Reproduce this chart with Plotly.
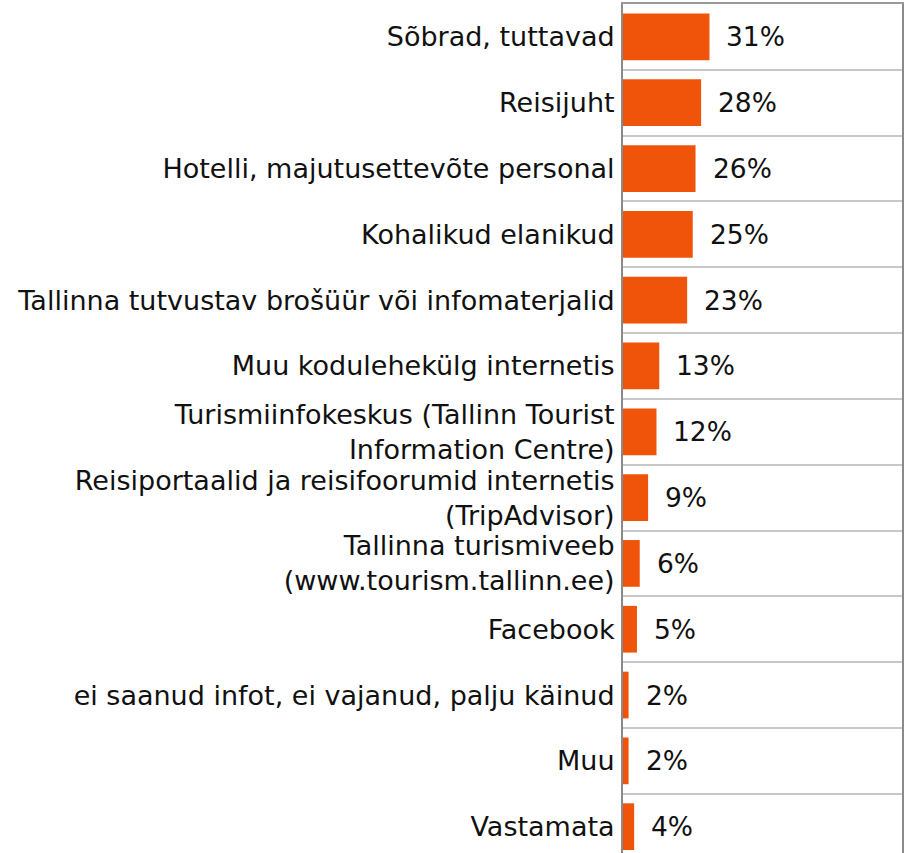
import plotly.graph_objects as go

categories = [
    "Sõbrad, tuttavad",
    "Reisijuht",
    "Hotelli, majutusettevõte personal",
    "Kohalikud elanikud",
    "Tallinna tutvustav brošüür või infomaterjalid",
    "Muu kodulehekülg internetis",
    "Turismiinfokeskus (Tallinn Tourist<br>Information Centre)",
    "Reisiportaalid ja reisifoorumid internetis<br>(TripAdvisor)",
    "Tallinna turismiveeb<br>(www.tourism.tallinn.ee)",
    "Facebook",
    "ei saanud infot, ei vajanud, palju käinud",
    "Muu",
    "Vastamata",
]
values = [31, 28, 26, 25, 23, 13, 12, 9, 6, 5, 2, 2, 4]
value_labels = [f"{v}%" for v in values]

FONT = "DejaVu Sans"
FS = 27
BAR = "#F0540A"

n = len(categories)
pos = list(range(n))

fig = go.Figure()
fig.add_trace(go.Bar(
    y=pos, x=values, orientation="h",
    marker=dict(color=BAR, line=dict(width=0)),
    width=0.71,
    hoverinfo="skip",
))

for p, v, t in zip(pos, values, value_labels):
    fig.add_annotation(x=v, y=p, text=t, showarrow=False,
                       xanchor="left", yanchor="middle", xshift=15,
                       font=dict(family=FONT, size=26.5, color="#111111"))

fig.update_layout(
    width=907, height=853,
    margin=dict(l=623, r=5, t=4, b=0),
    paper_bgcolor="white", plot_bgcolor="white",
    showlegend=False,
    font=dict(family=FONT, size=FS, color="#111111"),
    xaxis=dict(range=[0, 100], showgrid=False, zeroline=False,
               showticklabels=False, ticks="", side="top",
               showline=True, linecolor="#9a9a9a", linewidth=2,
               automargin=False),
    yaxis=dict(range=[12.40, -0.5], tickvals=pos, ticktext=categories,
               showgrid=False, zeroline=False, ticks="",
               ticklabelstandoff=1, automargin=False,
               showline=True, linecolor="#8a8a8a", linewidth=2, mirror=True,
               minor=dict(tickvals=[p + 0.5 for p in pos[:-1]], showgrid=True,
                          gridcolor="#c8c8c8", gridwidth=2, ticks="")),
)

fig.write_html("out.html",
               config={"displayModeBar": False, "staticPlot": True},
               post_script="document.body.style.margin='0';document.body.style.overflow='hidden';")
